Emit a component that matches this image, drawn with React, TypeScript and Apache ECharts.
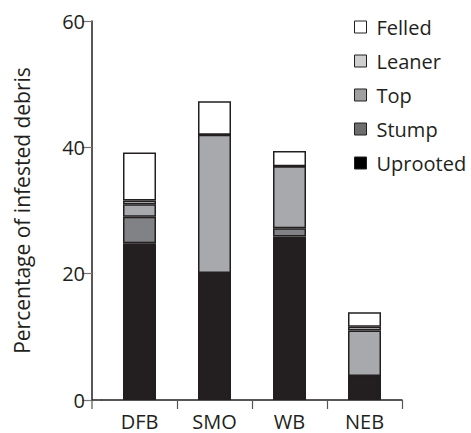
import React, { useEffect, useRef } from "react";
import * as echarts from "echarts";

// Debris categories along the x axis
const sites = ["DFB", "SMO", "WB", "NEB"];

// Percentage of infested debris by debris type (stacked bottom to top)
const uprooted = [24.8, 20.1, 25.9, 3.8];
const stump = [4.2, 0, 1.3, 0];
const top = [2.0, 21.9, 9.8, 7.2];
const leaner = [0.6, 0, 0, 0.6];
const felled = [7.6, 5.3, 2.4, 2.3];

const yTicks = [0, 20, 40, 60];

const INK = "#231f20";
const FONT = "'Open Sans', sans-serif";

export default function App() {
  const ref = useRef<HTMLDivElement>(null);

  useEffect(() => {
    if (!ref.current) return;
    const chart = echarts.init(ref.current, null, { renderer: "svg" });

    const seriesDefs = [
      { name: "Uprooted", data: uprooted, bar: INK, legend: "#000000" },
      { name: "Stump", data: stump, bar: "#808285", legend: "#6d6d6d" },
      { name: "Top", data: top, bar: "#a7a9ac", legend: "#a0a0a0" },
      { name: "Leaner", data: leaner, bar: "#d1d3d4", legend: "#cfcfcf" },
      { name: "Felled", data: felled, bar: "#ffffff", legend: "#ffffff" },
    ];

    const legendOrder = ["Felled", "Leaner", "Top", "Stump", "Uprooted"];

    chart.setOption({
      animation: false,
      grid: { left: 102, top: 21, width: 300, bottom: 33, containLabel: false },
      legend: {
        orient: "vertical",
        left: 349,
        top: 12,
        itemWidth: 12,
        itemHeight: 12,
        itemGap: 14,
        icon: "rect",
        textStyle: { fontFamily: FONT, fontSize: 20, color: INK, padding: [0, 0, 0, 5] },
        data: legendOrder.map((n) => {
          const d = seriesDefs.find((s) => s.name === n)!;
          return {
            name: n,
            itemStyle: { color: d.legend, borderColor: INK, borderWidth: 1 },
          };
        }),
      },
      xAxis: {
        type: "category",
        data: sites,
        boundaryGap: true,
        axisLine: { show: true, lineStyle: { color: INK, width: 1.5 } },
        axisTick: {
          show: true,
          length: 9,
          interval: (i: number) => i !== 0,
          lineStyle: { color: "#555", width: 1.2 },
        },
        axisLabel: {
          fontFamily: FONT,
          fontSize: 20,
          color: INK,
          margin: 11,
        },
      },
      yAxis: {
        type: "value",
        min: 0,
        max: 60,
        interval: 20,
        offset: 10,
        name: "Percentage of infested debris",
        nameLocation: "middle",
        nameGap: 60,
        nameTextStyle: { fontFamily: FONT, fontSize: 21, color: INK },
        splitLine: { show: false },
        axisLine: { show: true, lineStyle: { color: INK, width: 1.5 } },
        axisTick: { show: true, length: 10, lineStyle: { color: "#777", width: 1.2 } },
        axisLabel: {
          fontFamily: FONT,
          fontSize: 20,
          color: INK,
          margin: 7,
          formatter: (v: number) => (yTicks.includes(v) ? String(v) : ""),
        },
      },
      graphic: [
        // join the offset y axis to the x axis, and its short stub below zero
        {
          type: "line",
          shape: { x1: 92, y1: 400, x2: 102, y2: 400 },
          style: { stroke: INK, lineWidth: 1.5 },
        },
        {
          type: "line",
          shape: { x1: 92, y1: 400, x2: 92, y2: 409 },
          style: { stroke: "#555", lineWidth: 1.2 },
        },
      ],
      series: seriesDefs.map((s) => ({
        name: s.name,
        type: "bar",
        stack: "debris",
        barWidth: 33,
        data: s.data,
        itemStyle: { color: s.bar, borderColor: INK, borderWidth: 1.5 },
      })),
    });

    return () => chart.dispose();
  }, []);

  return (
    <div
      ref={ref}
      style={{ position: "fixed", left: 0, top: 0, width: 471, height: 433, background: "#fff" }}
    />
  );
}
